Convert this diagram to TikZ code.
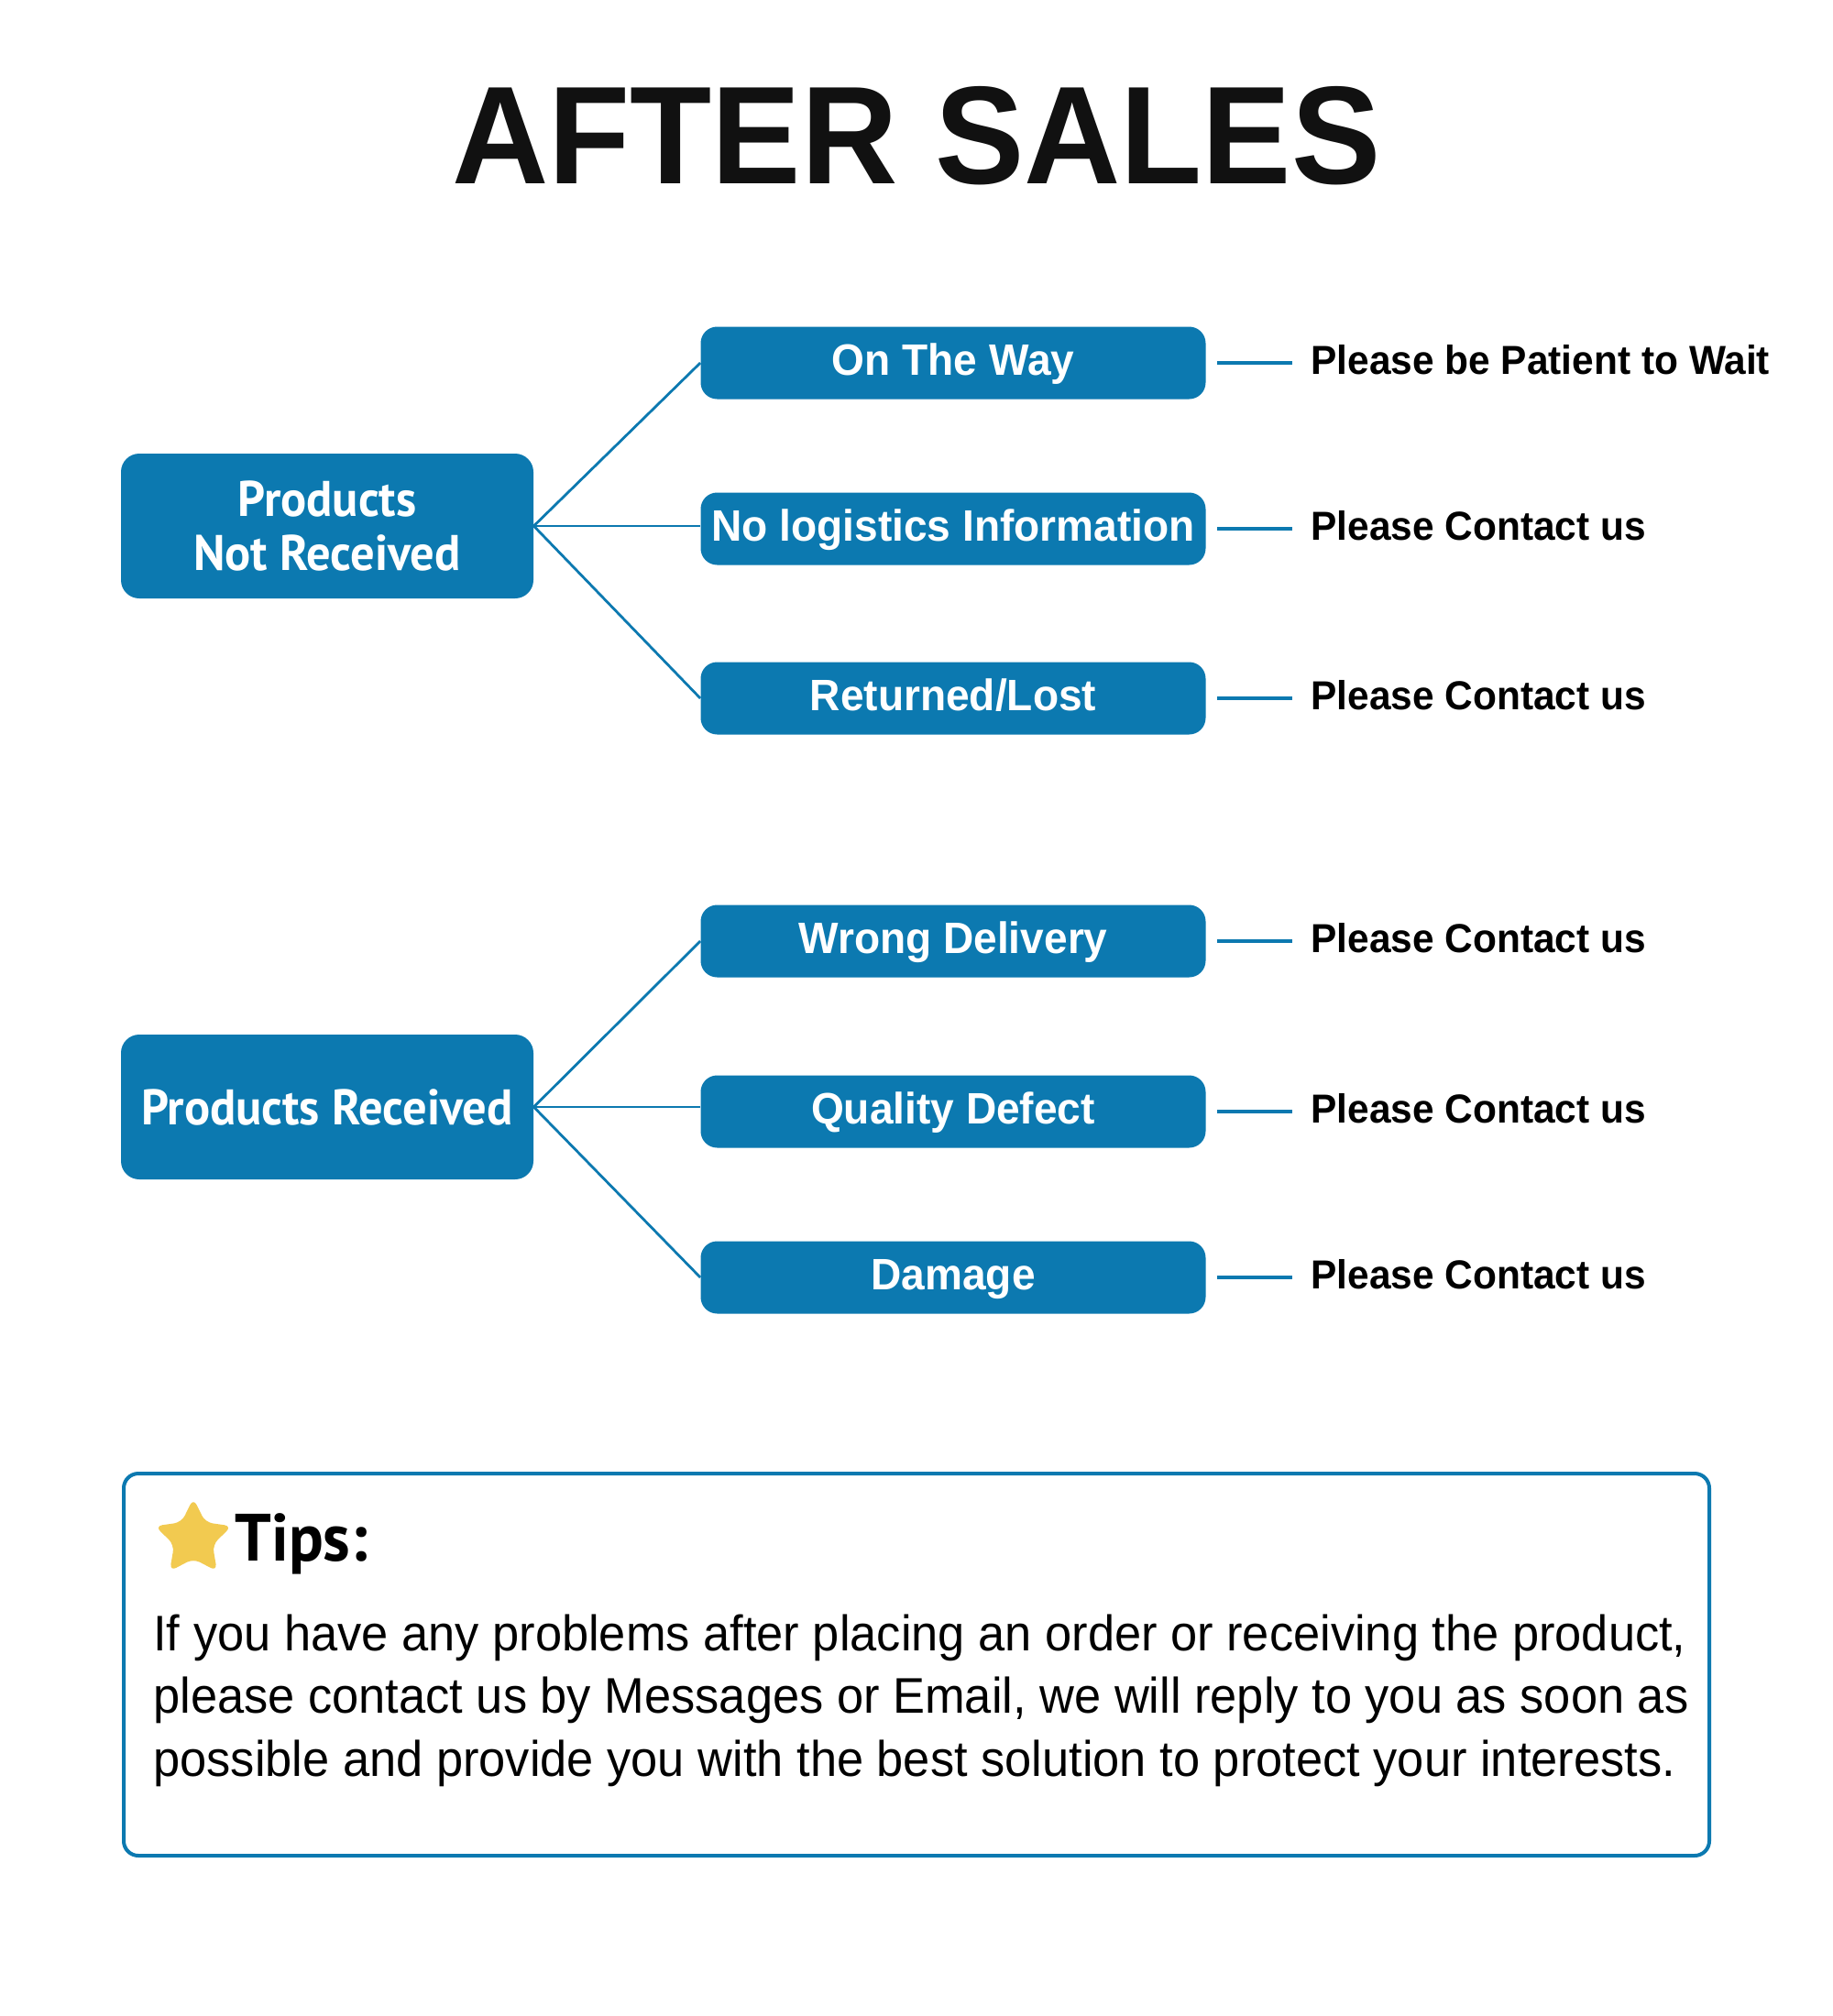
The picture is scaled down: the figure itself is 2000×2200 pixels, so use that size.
\documentclass[tikz,border=0pt]{standalone}
\usepackage{fontspec}
\setmainfont{Liberation Sans}[FakeStretch=0.96]
\newfontfamily\ptsans{PT Sans}[FakeStretch=0.96]
\definecolor{brand}{RGB}{12,121,176}
\definecolor{staryellow}{RGB}{242,202,80}
\definecolor{ink}{RGB}{17,17,17}
\tikzset{
  leftbox/.style={fill=brand, rounded corners=10pt, minimum width=225pt, minimum height=79pt,
    text=white, font=\ptsans\bfseries\fontsize{27.3}{29.5}\selectfont, align=center, inner sep=0pt},
  midbox/.style={fill=brand, rounded corners=9pt, minimum width=275.5pt, minimum height=39.5pt,
    text=white, font=\bfseries\fontsize{24}{28}\selectfont, text height=17.2pt, text depth=4pt, inner sep=0pt},
  answer/.style={anchor=base west, inner sep=0pt, text=black, font=\bfseries\fontsize{22.1}{26}\selectfont},
  link/.style={draw=brand, line width=1.4pt},
  stub/.style={draw=brand, line width=2pt},
  bodytext/.style={anchor=base west, inner sep=0pt, text=black, font=\fontsize{27.3}{34}\selectfont},
}
\begin{document}
\begin{tikzpicture}[x=0.5pt, y=-0.5pt]
\useasboundingbox (0,0) rectangle (2000,2200);
\fill[white] (0,0) rectangle (2000,2200);

\node[anchor=base, inner sep=0pt, text=ink, font=\bfseries\fontsize{76}{80}\selectfont] (title) at (1000,200) {AFTER SALES};

\node[leftbox] (pnr) at (357,574) {Products\\Not Received};
\node[leftbox] (pr) at (357,1208) {Products Received};

\node[midbox] (way) at (1040,396) {On The Way};
\node[midbox] (nolog) at (1040,577) {No logistics Information};
\node[midbox] (lost) at (1040,762) {Returned/Lost};
\node[midbox] (wrong) at (1040,1027) {Wrong Delivery};
\node[midbox] (defect) at (1040,1213) {Quality Defect};
\node[midbox] (damage) at (1040,1394) {Damage};

\draw[link] (pnr.east) -- (way.west);
\draw[link] (pnr.east) -- (pnr.east -| nolog.west);
\draw[link] (pnr.east) -- (lost.west);
\draw[link] (pr.east) -- (wrong.west);
\draw[link] (pr.east) -- (pr.east -| defect.west);
\draw[link] (pr.east) -- (damage.west);

\node[answer] (a1) at (1430,408) {Please be Patient to Wait};
\node[answer] (a2) at (1430,589) {Please Contact us};
\node[answer] (a3) at (1430,774) {Please Contact us};
\node[answer] (a4) at (1430,1039) {Please Contact us};
\node[answer] (a5) at (1430,1225) {Please Contact us};
\node[answer] (a6) at (1430,1406) {Please Contact us};

\draw[stub] (way.east) ++(12,0) -- ++(82,0);
\draw[stub] (nolog.east) ++(12,0) -- ++(82,0);
\draw[stub] (lost.east) ++(12,0) -- ++(82,0);
\draw[stub] (wrong.east) ++(12,0) -- ++(82,0);
\draw[stub] (defect.east) ++(12,0) -- ++(82,0);
\draw[stub] (damage.east) ++(12,0) -- ++(82,0);

\node[draw=brand, line width=2pt, rounded corners=8pt, minimum width=865pt, minimum height=208.5pt, inner sep=0pt] (tipsbox) at (1000,1816.5) {};

\fill[staryellow, rounded corners=4pt, shift={(211,1679)}]
  (270:44) -- (306:22) -- (342:44) -- (18:22) -- (54:44) -- (90:22)
  -- (126:44) -- (162:22) -- (198:44) -- (234:22) -- cycle;

\node[anchor=base west, inner sep=0pt, text=black, font=\ptsans\bfseries\fontsize{36.5}{40}\selectfont] (tips) at (256,1703) {Tips:};

\node[bodytext] (b1) at (167,1801) {If you have any problems after placing an order or receiving the product,};
\node[bodytext] (b2) at (167,1869) {please contact us by Messages or Email, we will reply to you as soon as};
\node[bodytext] (b3) at (167,1938) {possible and provide you with the best solution to protect your interests.};
\end{tikzpicture}
\end{document}
